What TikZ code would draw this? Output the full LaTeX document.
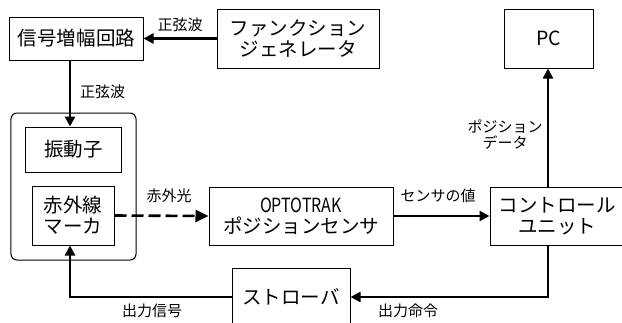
\documentclass[tikz,border=0pt]{standalone}
\usepackage{fontspec}
\setmainfont{Noto Sans CJK JP}
\usetikzlibrary{arrows.meta}
\begin{document}
\begin{tikzpicture}[x=1bp,y=-1bp,
  box/.style={draw, line width=1bp, inner sep=0pt, align=center,
    font=\fontsize{19.5bp}{21bp}\selectfont},
  lbl/.style={inner sep=0pt, align=center, font=\fontsize{15bp}{16bp}\selectfont},
  conn/.style={line width=2.4bp, -{Triangle[length=10bp,width=10bp]}},
  plain/.style={line width=2.4bp}]
\useasboundingbox (0,0) rectangle (622,322);
\fill[white] (0,0) rectangle (622,322);
% boxes
\node[box, minimum width=133bp, minimum height=43bp] (amp) at (76.5,38.5) {信号増幅回路};
\node[box, minimum width=162bp, minimum height=59bp] (fg) at (298,38.5) {ファンクション\\ジェネレータ};
\node[box, minimum width=89bp, minimum height=59bp] (pc) at (548.5,38.5) {PC};
\node[draw, line width=1bp, rounded corners=6bp, minimum width=125bp, minimum height=147bp] (outer) at (73.5,186.5) {};
\node[box, minimum width=95bp, minimum height=45bp] (vib) at (73.5,149.5) {振動子};
\node[box, minimum width=82bp, minimum height=59bp] (mk) at (73,215.5) {赤外線\\マーカ};
\node[box, minimum width=184bp, minimum height=58bp] (opto) at (301,216) {\scalebox{0.82}[1]{OPTOTRAK}\\ポジションセンサ};
\node[box, minimum width=134bp, minimum height=58bp] (ctrl) at (557,216) {コントロール\\ユニット};
\node[box, minimum width=118bp, minimum height=58bp] (strobe) at (291,297) {ストローバ};
% helper coordinates
\coordinate (ax) at (70,0);
\coordinate (cx) at (548,0);
\coordinate (by) at (0,297);
% connectors
\draw[conn] (fg.west) -- (amp.east);
\draw[conn] (amp.south -| ax) -- (vib.north -| ax);
\draw[line width=2.6bp, dash pattern=on 12bp off 5bp, -{Triangle[length=13bp,width=12bp]}] (mk.east) -- (opto.west);
\draw[conn] (opto.east) -- (ctrl.west);
\draw[conn] (ctrl.north -| cx) -- (pc.south -| cx);
\draw[conn] (ctrl.south -| cx) |- (strobe.east);
\draw[conn] (strobe.west) -| (mk.south -| ax);
% labels
\node[lbl] (l1) at (180,25) {正弦波};
\node[lbl] (l2) at (102.5,92) {正弦波};
\node[lbl] (l3) at (169,196) {赤外光};
\node[lbl] (l4) at (438,196) {センサの値};
\node[lbl] (l5) at (505,135) {ポジション\\データ};
\node[lbl] (l6) at (152,311) {出力信号};
\node[lbl] (l7) at (408,311) {出力命令};
\end{tikzpicture}
\end{document}
